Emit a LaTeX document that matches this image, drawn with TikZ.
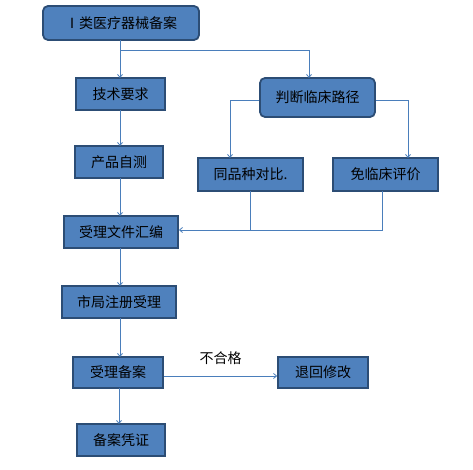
\documentclass[tikz,border=0pt]{standalone}
\usepackage{fontspec}
\setmainfont{Noto Sans CJK SC}
\usetikzlibrary{arrows.meta}
\definecolor{boxfill}{HTML}{4F81BD}
\definecolor{boxline}{HTML}{2C4D75}
\definecolor{lnk}{HTML}{4A7EBB}
\begin{document}
\begin{tikzpicture}[x=1pt,y=-1pt,
  box/.style={draw=boxline,line width=1.8pt,fill=boxfill,inner sep=0pt},
  rbox/.style={box,rounded corners=5pt},
  lbl/.style={font=\fontsize{14}{14}\selectfont},
  conn/.style={draw=lnk,line width=0.8pt,-{Straight Barb[length=3pt,width=5pt]}},
  plain/.style={draw=lnk,line width=0.8pt}]
\useasboundingbox (0,0) rectangle (473,470);
\fill[white] (0,0) rectangle (473,470);
\newcommand{\bx}[6]{\node[#1,minimum width=#4-#2,minimum height=#5-#3] (#6) at ({(#2+#4)/2},{(#3+#5)/2}) {};}
\bx{rbox}{43}{6}{199}{40}{a}
\node[lbl] at (a) {Ⅰ类医疗器械备案};
\bx{box}{76}{78}{165}{110}{b}
\node[lbl] at (b) {技术要求};
\bx{rbox}{260}{78}{375}{117}{c}
\node[lbl] at (c) {判断临床路径};
\bx{box}{75}{146}{163}{178}{d}
\node[lbl] at (d) {产品自测};
\bx{box}{198}{158}{303}{191}{e}
\node[lbl] at (e) {同品种对比.};
\bx{box}{333}{158}{438}{191}{f}
\node[lbl] at (f) {免临床评价};
\bx{box}{64}{216}{178}{248}{g}
\node[lbl] at (g) {受理文件汇编};
\bx{box}{62}{286}{176}{318}{h}
\node[lbl] at (h) {市局注册受理};
\bx{box}{73}{357}{163}{388}{i}
\node[lbl] at (i) {受理备案};
\bx{box}{278}{357}{368}{388}{j}
\node[lbl] at (j) {退回修改};
\bx{box}{77}{424}{165}{456}{k}
\node[lbl] at (k) {备案凭证};
% connectors
\coordinate (s1) at (120,50);
\draw[conn] (120,40) -- (120,78);
\draw[conn] (s1) -| (309,78);
\draw[conn] (120,110) -- (120,146);
\draw[conn] (120,178) -- (120,216);
\draw[conn] (c.west|-0,100) -| (230,158);
\draw[conn] (c.east|-0,100) -| (408,158);
\draw[plain] (250,191) |- (382,230) -- (382,191);
\draw[conn] (250,230) -- (g.east|-0,230);
\draw[conn] (120,248) -- (120,286);
\draw[conn] (120,318) -- (120,357);
\draw[conn] (119,388) -- (119,424);
\draw[conn] (164,376) -- node[lbl,above=8pt]{不合格} (j.west|-0,376);
\end{tikzpicture}
\end{document}
